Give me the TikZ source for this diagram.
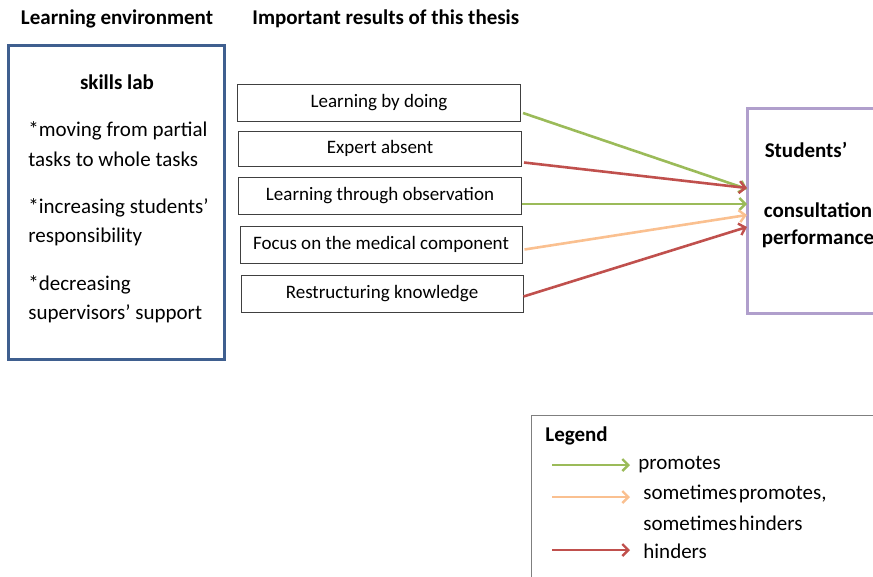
\documentclass[tikz,border=0pt]{standalone}
\usepackage{fontspec}
\setmainfont{Carlito}
\usepackage{xcolor}
\usetikzlibrary{arrows.meta,positioning}
\definecolor{envblue}{HTML}{3F5F8F}
\definecolor{perfpurple}{HTML}{B09FCC}
\definecolor{promgreen}{HTML}{9BBB59}
\definecolor{hindred}{HTML}{C0504D}
\definecolor{sometorange}{HTML}{FAC090}
\definecolor{legendgray}{HTML}{7F7F7F}

\begin{document}
\begin{tikzpicture}[x=1pt,y=-1pt,
        result/.style = {draw=black!75, line width=1pt, minimum width=283pt, minimum height=37pt, inner sep=0pt, font=\fontsize{19}{22}\selectfont},
        head/.style = {font=\fontsize{21}{24}\selectfont\bfseries, inner sep=0pt},
        envtext/.style = {font=\fontsize{21}{24}\selectfont, anchor=west, inner sep=0pt},
        perftext/.style = {font=\fontsize{21}{24}\selectfont\bfseries, inner sep=0pt},
        legtext/.style = {font=\fontsize{21}{24}\selectfont, anchor=west, inner sep=0pt},
        link/.style = {line width=2.6pt, -{Straight Barb[length=6pt,width=12pt,line width=2.4pt]}},
        thick
    ]
        \useasboundingbox (0,0) rectangle (873,576);
        \clip (0,0) rectangle (873,576);
        % titles
        \node[head] (envtitle) at (117,19) {Learning environment};
        \node[head, anchor=west] (restitle) at (252,19) {Important results of this thesis};
        % learning environment
        \draw[envblue, line width=3pt] (8,45) rectangle (224,359);
        \node[perftext] (skills) at (117,82) {skills lab};
        \node[envtext] (env1) at (28,131) {*moving from partial};
        \node[envtext] (env2) at (28,159) {tasks to whole tasks};
        \node[envtext] (env3) at (28,208) {*increasing students’};
        \node[envtext] (env4) at (28,237) {responsibility};
        \node[envtext] (env5) at (28,285) {*decreasing};
        \node[envtext] (env6) at (28,314) {supervisors’ support};
        % results
        \node[result] (doing) at (379,103) {Learning by doing};
        \node[result, minimum height=35pt] (expert) at (380,148.5) {Expert absent};
        \node[result] (observe) at (380,196) {Learning through observation};
        \node[result, minimum width=282pt] (medical) at (381,244.5) {Focus on the medical component};
        \node[result, minimum width=282pt] (restruct) at (382,293.5) {Restructuring knowledge};
        % performance
        \draw[perfpurple, line width=3pt] (747,108) rectangle (900,313);
        \coordinate (perf) at (747,204);
        \node[perftext] (stud) at (806,150) {Students’};
        \node[perftext] (consult) at (818,210) {consultation};
        \node[perftext] (perform) at (818,239) {performance};
        % connectors
        \draw[link, promgreen] (doing.east) ++(2,10) -- ([shift={(0,-15)}]perf);
        \draw[link, hindred] (expert.east) ++(2,14) -- ([shift={(0,-16)}]perf);
        \draw[link, promgreen] (observe.east) ++(0,8) -- (perf);
        \draw[link, sometorange] (medical.east) ++(2,5) -- ([shift={(0,11)}]perf);
        \draw[link, hindred] (restruct.east) ++(0,3) -- ([shift={(0,23)}]perf);
        % legend
        \draw[legendgray, line width=1pt] (531,415) rectangle (900,600);
        \node[head, anchor=west] (legend) at (545,436) {Legend};
        \coordinate (lg1) at (552,465);
        \coordinate (lg2) at (552,497);
        \coordinate (lg3) at (552,550);
        \draw[link, promgreen] (lg1) -- ++(78,0);
        \draw[link, sometorange] (lg2) -- ++(78,0);
        \draw[link, hindred] (lg3) -- ++(78,0);
        \node[legtext] (promotes) at (638,465) {promotes};
        \node[legtext] (sometimes1) at (643,494) {sometimes\hspace{2pt}promotes,};
        \node[legtext] (sometimes2) at (643,523) {sometimes\hspace{2pt}hinders};
        \node[legtext] (hinders) at (643,551) {hinders};
\end{tikzpicture}
\end{document}
